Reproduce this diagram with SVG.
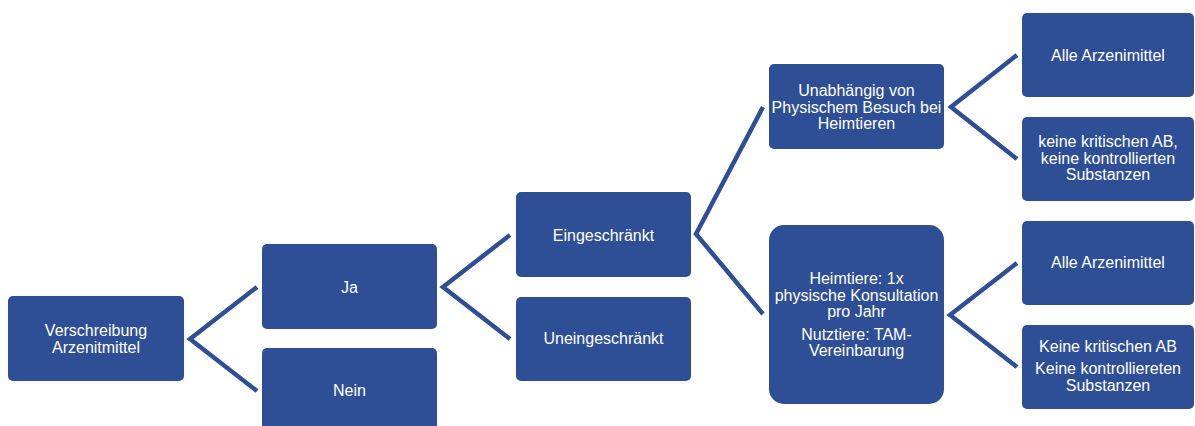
<svg xmlns="http://www.w3.org/2000/svg" width="1195" height="426" viewBox="0 0 1195 426">
  <style>
    .node { fill: #2E4F96; }
    .lbl { fill: #FFFFFF; font-family: "Liberation Sans", Arial, sans-serif; font-size: 16px; text-anchor: middle; }
    .conn { fill: none; stroke: #2E4F96; stroke-width: 4.5; stroke-linejoin: miter; stroke-linecap: butt; }
  </style>
  <rect width="1195" height="426" fill="#FFFFFF"/>
  <g id="connectors">
    <polyline class="conn" points="257,287 190,339 257,391"/>
    <polyline class="conn" points="510,235 443,287 510,339"/>
    <polyline class="conn" points="763,107 696,234 763,314"/>
    <polyline class="conn" points="1017,55 951,107 1017,159"/>
    <polyline class="conn" points="1017,263 950,315 1017,367"/>
  </g>
  <g id="n-verschreibung">
    <rect class="node" x="8" y="296" width="176" height="85" rx="5"/>
    <text class="lbl" x="96" y="336">Verschreibung</text>
    <text class="lbl" x="96" y="353">Arzenitmittel</text>
  </g>
  <g id="n-ja">
    <rect class="node" x="262" y="244" width="175" height="85" rx="5"/>
    <text class="lbl" x="349.5" y="292.5">Ja</text>
  </g>
  <g id="n-nein">
    <rect class="node" x="262" y="348" width="175" height="85" rx="5"/>
    <text class="lbl" x="349.5" y="396">Nein</text>
  </g>
  <g id="n-eingeschraenkt">
    <rect class="node" x="516" y="192" width="175" height="85" rx="5"/>
    <text class="lbl" x="603.5" y="240.5">Eingeschränkt</text>
  </g>
  <g id="n-uneingeschraenkt">
    <rect class="node" x="516" y="297" width="175" height="84" rx="5"/>
    <text class="lbl" x="603.5" y="344">Uneingeschränkt</text>
  </g>
  <g id="n-unabhaengig">
    <rect class="node" x="769" y="64" width="175" height="85" rx="5"/>
    <text class="lbl" x="856.5" y="96">Unabhängig von</text>
    <text class="lbl" x="856.5" y="112.5">Physischem Besuch bei</text>
    <text class="lbl" x="856.5" y="129">Heimtieren</text>
  </g>
  <g id="n-heimtiere">
    <rect class="node" x="769" y="225" width="175" height="179" rx="15"/>
    <text class="lbl" x="856.5" y="284">Heimtiere: 1x</text>
    <text class="lbl" x="856.5" y="300.5">physische Konsultation</text>
    <text class="lbl" x="856.5" y="317">pro Jahr</text>
    <text class="lbl" x="856.5" y="340">Nutztiere: TAM-</text>
    <text class="lbl" x="856.5" y="356">Vereinbarung</text>
  </g>
  <g id="n-alle1">
    <rect class="node" x="1022" y="13" width="172" height="84" rx="5"/>
    <text class="lbl" x="1108" y="60.5">Alle Arzenimittel</text>
  </g>
  <g id="n-keine1">
    <rect class="node" x="1022" y="117" width="172" height="84" rx="5"/>
    <text class="lbl" x="1108" y="147">keine kritischen AB,</text>
    <text class="lbl" x="1108" y="163.5">keine kontrollierten</text>
    <text class="lbl" x="1108" y="180">Substanzen</text>
  </g>
  <g id="n-alle2">
    <rect class="node" x="1022" y="221" width="172" height="84" rx="5"/>
    <text class="lbl" x="1108" y="268">Alle Arzenimittel</text>
  </g>
  <g id="n-keine2">
    <rect class="node" x="1022" y="325" width="172" height="84" rx="5"/>
    <text class="lbl" x="1108" y="352">Keine kritischen AB</text>
    <text class="lbl" x="1108" y="374">Keine kontrolliereten</text>
    <text class="lbl" x="1108" y="391">Substanzen</text>
  </g>
</svg>
